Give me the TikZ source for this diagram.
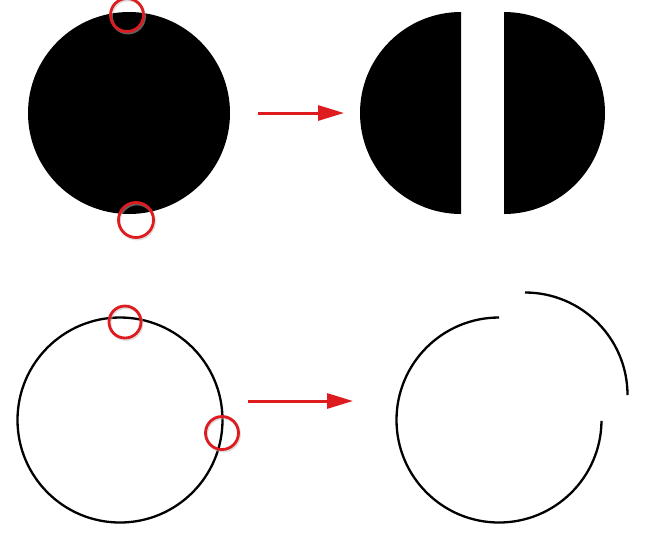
\documentclass[tikz,border=0pt]{standalone}
\usetikzlibrary{arrows.meta}
\definecolor{mark}{RGB}{222,28,32}
\tikzset{
  marker/.style={draw=mark, line width=2.8pt},
  markshadow/.style={draw=black!25, line width=2.8pt, opacity=0.5},
  redarrow/.style={draw=mark, line width=3pt, -{Triangle[length=26pt,width=15pt]}},
  ring/.style={draw=black, line width=2.3pt},
  solid disc/.style={fill=black}
}
\begin{document}
\begin{tikzpicture}[x=1pt,y=-1pt]
\useasboundingbox (0,0) rectangle (652,542);
\fill[white] (0,0) rectangle (652,542);
% --- top left: solid disc with two marks
\coordinate (c1) at (129,113);
\fill[solid disc] (c1) circle[radius=101];
\draw[markshadow] (128,16.5) circle[radius=16.5];
\draw[marker] (127,15) circle[radius=16.5];
\draw[markshadow] (137,221.5) circle[radius=17.5];
\draw[marker] (136,220) circle[radius=17.5];
% --- top arrow
\coordinate (a1s) at (258,113);
\coordinate (a1e) at (344,113);
\draw[redarrow] (a1s) -- (a1e);
% --- top right: split disc
\fill[solid disc] (461,12) arc[start angle=-90, end angle=-270, radius=101] -- cycle;
\fill[solid disc] (504,12) arc[start angle=-90, end angle=90, radius=101] -- cycle;
% --- bottom left: ring with two marks
\coordinate (c2) at (120,420);
\draw[ring] (c2) circle[radius=102.5];
\draw[markshadow] (126,323.5) circle[radius=16];
\draw[marker] (125,322) circle[radius=16];
\draw[markshadow] (223,434.5) circle[radius=16.5];
\draw[marker] (222,433) circle[radius=16.5];
% --- bottom arrow
\coordinate (a2s) at (248,401);
\coordinate (a2e) at (353,401);
\draw[redarrow] (a2s) -- (a2e);
% --- bottom right: broken ring
\draw[ring] (499,317.5) arc[start angle=-90, end angle=-359.5, radius=102.5];
\draw[ring] (525,292.5) arc[start angle=-90, end angle=0, radius=102.5];
\end{tikzpicture}
\end{document}
